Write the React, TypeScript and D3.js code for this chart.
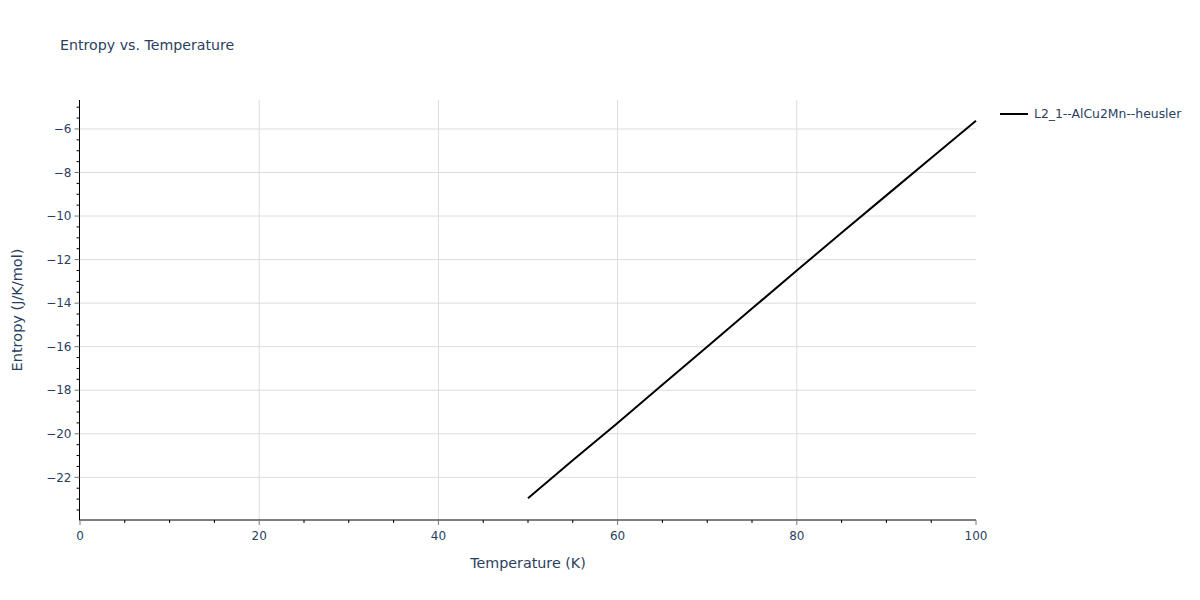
import React, { useEffect, useRef } from 'react';
import * as d3 from 'd3';

// Temperature (K) and entropy (J/K/mol)
const temperatures = [50, 55, 60, 65, 70, 75, 80, 85, 90, 95, 100];
const entropies = [-22.96, -21.22, -19.5, -17.75, -16.0, -14.25, -12.5, -10.77, -9.05, -7.33, -5.62];
const xTicks = [0, 20, 40, 60, 80, 100];
const yTicks = [-22, -20, -18, -16, -14, -12, -10, -8, -6];
const seriesName = 'L2_1--AlCu2Mn--heusler';

const App = () => {
  const svgRef: any = useRef();

  useEffect(() => {
    document.body.style.margin = '0';
    const width = 1200;
    const height = 600;
    const margin = { left: 80, right: 224, top: 100, bottom: 80 };
    const font = '"DejaVu Sans", verdana, arial, sans-serif';
    const textColor = '#2a3f5f';

    const svg = d3.select(svgRef.current)
      .attr('width', width)
      .attr('height', height)
      .style('font-family', font);
    svg.selectAll('*').remove();

    const x = d3.scaleLinear().domain([0, 100]).range([margin.left, width - margin.right]);
    const y = d3.scaleLinear().domain([-23.96, -4.67]).range([height - margin.bottom, margin.top]);

    // grid
    svg.append('g').selectAll('line')
      .data(xTicks.filter(d => d > 0 && d < 100))
      .join('line')
      .attr('x1', d => x(d)).attr('x2', d => x(d))
      .attr('y1', margin.top).attr('y2', height - margin.bottom)
      .attr('stroke', '#dcdcdc').attr('stroke-width', 1);
    svg.append('g').selectAll('line')
      .data(yTicks)
      .join('line')
      .attr('x1', margin.left).attr('x2', width - margin.right)
      .attr('y1', d => y(d)).attr('y2', d => y(d))
      .attr('stroke', '#dcdcdc').attr('stroke-width', 1);

    // x axis
    const xAxis = svg.append('g').attr('transform', `translate(0,${height - margin.bottom})`);
    xAxis.append('line')
      .attr('x1', margin.left - 1).attr('x2', width - margin.right)
      .attr('stroke', '#000').attr('stroke-width', 1);
    xAxis.selectAll('line.minor')
      .data(d3.range(5, 100, 5).filter(d => d % 20 !== 0))
      .join('line').attr('class', 'minor')
      .attr('x1', d => x(d)).attr('x2', d => x(d))
      .attr('y1', 0).attr('y2', 3)
      .attr('stroke', '#000');
    xAxis.selectAll('line.major')
      .data(xTicks)
      .join('line').attr('class', 'major')
      .attr('x1', d => x(d)).attr('x2', d => x(d))
      .attr('y1', 0).attr('y2', 5)
      .attr('stroke', '#777');
    xAxis.selectAll('text')
      .data(xTicks)
      .join('text')
      .attr('x', d => x(d)).attr('y', 20)
      .attr('text-anchor', 'middle')
      .attr('font-size', 12)
      .attr('fill', textColor)
      .text(d => d);

    // y axis
    const yAxis = svg.append('g').attr('transform', `translate(${margin.left - 0.5},0)`);
    yAxis.append('line')
      .attr('y1', margin.top).attr('y2', height - margin.bottom)
      .attr('stroke', '#000').attr('stroke-width', 1);
    yAxis.selectAll('line.minor')
      .data(d3.range(-23.5, -4.6, 0.5).filter(d => Math.abs(d % 2) !== 0))
      .join('line').attr('class', 'minor')
      .attr('x1', -3).attr('x2', 0)
      .attr('y1', d => y(d)).attr('y2', d => y(d))
      .attr('stroke', '#000');
    yAxis.selectAll('line.major')
      .data(yTicks)
      .join('line').attr('class', 'major')
      .attr('x1', -5).attr('x2', 0)
      .attr('y1', d => y(d)).attr('y2', d => y(d))
      .attr('stroke', '#777');
    yAxis.selectAll('text')
      .data(yTicks)
      .join('text')
      .attr('x', -8).attr('y', d => y(d))
      .attr('dy', '0.35em')
      .attr('text-anchor', 'end')
      .attr('font-size', 12)
      .attr('fill', textColor)
      .text(d => d3.format('')(d).replace('-', '\u2212'));

    // series line
    const line = d3.line<number>()
      .x((_, i) => x(temperatures[i]))
      .y(d => y(d));
    svg.append('path')
      .datum(entropies)
      .attr('d', line)
      .attr('fill', 'none')
      .attr('stroke', '#000')
      .attr('stroke-width', 2);

    // titles
    svg.append('text')
      .attr('x', 60).attr('y', 50)
      .attr('font-size', 14.2)
      .attr('fill', textColor)
      .text('Entropy vs. Temperature');
    svg.append('text')
      .attr('x', (margin.left + width - margin.right) / 2).attr('y', 568)
      .attr('text-anchor', 'middle')
      .attr('font-size', 14.3)
      .attr('fill', textColor)
      .text('Temperature (K)');
    svg.append('text')
      .attr('transform', `translate(22,${(margin.top + height - margin.bottom) / 2}) rotate(-90)`)
      .attr('text-anchor', 'middle')
      .attr('font-size', 14.5)
      .attr('fill', textColor)
      .text('Entropy (J/K/mol)');

    // legend
    svg.append('line')
      .attr('x1', 1000).attr('x2', 1028)
      .attr('y1', 114).attr('y2', 114)
      .attr('stroke', '#000').attr('stroke-width', 2);
    svg.append('text')
      .attr('x', 1034).attr('y', 114)
      .attr('dy', '0.35em')
      .attr('font-size', 12.4)
      .attr('fill', textColor)
      .text(seriesName);
  }, []);

  return <svg ref={svgRef}></svg>;
};

export default App;
